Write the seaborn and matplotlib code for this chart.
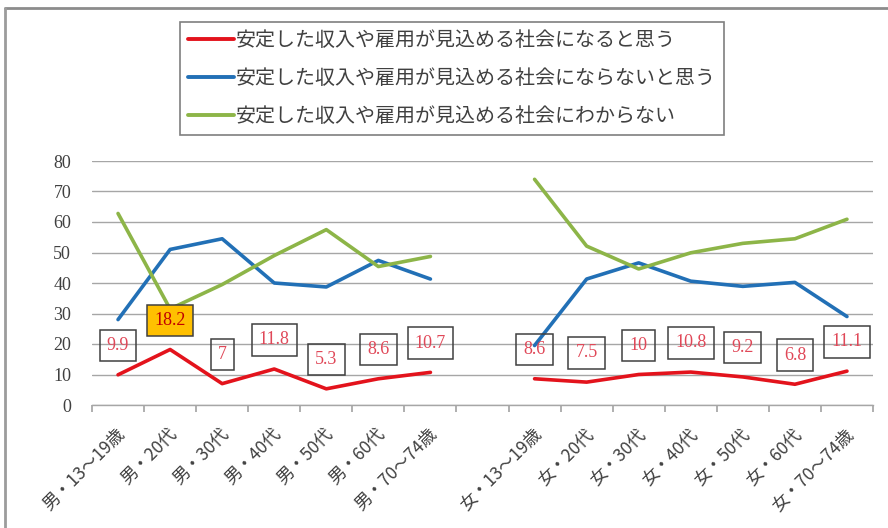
import numpy as np
import pandas as pd
import seaborn as sns
import matplotlib.pyplot as plt
from matplotlib.lines import Line2D

# --- data -------------------------------------------------------------
categories = [
    "男・13～19歳", "男・20代", "男・30代", "男・40代", "男・50代", "男・60代", "男・70～74歳",
    "",
    "女・13～19歳", "女・20代", "女・30代", "女・40代", "女・50代", "女・60代", "女・70～74歳",
]
groups = ["男"] * 7 + [""] + ["女"] * 7

series_names = [
    "安定した収入や雇用が見込める社会になると思う",
    "安定した収入や雇用が見込める社会にならないと思う",
    "安定した収入や雇用が見込める社会にわからない",
]

will_be = [9.9, 18.2, 7, 11.8, 5.3, 8.6, 10.7, np.nan, 8.6, 7.5, 10, 10.8, 9.2, 6.8, 11.1]
will_not_be = [28.0, 51.0, 54.5, 40.0, 38.7, 47.4, 41.3, np.nan, 19.5, 41.3, 46.6, 40.6, 38.9, 40.2, 29.0]
unknown = [62.8, 31.5, 39.5, 49.0, 57.5, 45.4, 48.7, np.nan, 74.0, 52.1, 44.6, 49.9, 53.0, 54.5, 60.9]

y_ticks = [0, 10, 20, 30, 40, 50, 60, 70, 80]

colors = ["#E3131C", "#2270B6", "#8DB548"]

# --- long table for seaborn ------------------------------------------
rows = []
for name, vals in zip(series_names, [will_be, will_not_be, unknown]):
    for i, v in enumerate(vals):
        if not np.isnan(v):
            rows.append({"pos": i, "value": v, "series": name, "group": groups[i]})
df = pd.DataFrame(rows)

sns.set_theme(style="white")
jp = ["Noto Sans CJK JP", "DejaVu Sans"]
serif = ["Liberation Serif", "DejaVu Serif"]
plt.rcParams["font.family"] = jp

fig = plt.figure(figsize=(8.88, 5.28), dpi=100)
W, H = 888, 528
ax = fig.add_axes([92 / W, (H - 405) / H, (873 - 92) / W, (405 - 161) / H])

sns.lineplot(
    data=df, x="pos", y="value", hue="series", units="group", estimator=None,
    palette=dict(zip(series_names, colors)), hue_order=series_names,
    linewidth=2.6, legend=False, ax=ax, zorder=3,
)

# axes styling
ax.set_xlim(-0.5, len(categories) - 0.5)
ax.set_ylim(0, 80)
ax.set_yticks(y_ticks)
ax.set_yticklabels([str(t) for t in y_ticks], family=serif, fontsize=13, color="#404040")
ax.tick_params(axis="y", length=0, pad=15)
ax.yaxis.grid(True, color="#A6A6A6", linewidth=1)
ax.set_axisbelow(True)
for s in ["top", "right", "left"]:
    ax.spines[s].set_visible(False)
ax.spines["bottom"].set_color("#A6A6A6")
ax.spines["bottom"].set_linewidth(1)

# ticks at category boundaries, labels at category centres
ax.set_xticks(np.arange(-0.5, len(categories)), minor=False)
ax.set_xticklabels([])
ax.tick_params(axis="x", which="major", length=5, color="#A6A6A6", direction="out", bottom=True)
ax.set_xticks(np.arange(len(categories)) + 0.08, minor=True)
ax.set_xticklabels(categories, minor=True, rotation=45, ha="right", va="center",
                   rotation_mode="anchor", fontsize=12.5, color="#404040")
ax.tick_params(axis="x", which="minor", length=0, pad=19)
ax.set_xlabel("")
ax.set_ylabel("")

# value labels for the first series
peak = max(x for x in will_be if not np.isnan(x))
for i, v in enumerate(will_be):
    if np.isnan(v):
        continue
    highlight = v == peak
    ax.annotate(
        f"{v:g}", xy=(i, v), xytext=(0, 21), textcoords="offset points",
        ha="center", va="center", family=serif, fontsize=13,
        color="#C00000" if highlight else "#E04858",
        bbox=dict(boxstyle="square,pad=0.4",
                  facecolor="#FFC000" if highlight else "none",
                  edgecolor="#404040", linewidth=1.1),
        zorder=5,
    )

# legend
handles = [Line2D([0], [0], color=c, lw=2.8) for c in colors]
leg = fig.legend(
    handles, series_names, loc="upper left",
    bbox_to_anchor=(180 / W, 1 - 22 / H), frameon=True, fancybox=False,
    edgecolor="#7F7F7F", framealpha=1, fontsize=14.4, handlelength=2.3,
    handletextpad=0.1, labelspacing=0.85, borderpad=0.4, borderaxespad=0,
)
leg.get_frame().set_linewidth(1.2)
for t in leg.get_texts():
    t.set_color("#404040")

# chart-area frame along the top and left edges
fig.add_artist(Line2D([5 / W, 1], [1 - 8 / H, 1 - 8 / H], color="#8C8C8C", lw=2, transform=fig.transFigure))
fig.add_artist(Line2D([5 / W, 5 / W], [0, 1 - 8 / H], color="#9C9C9C", lw=2, transform=fig.transFigure))

fig.savefig("out.png", dpi=100)
